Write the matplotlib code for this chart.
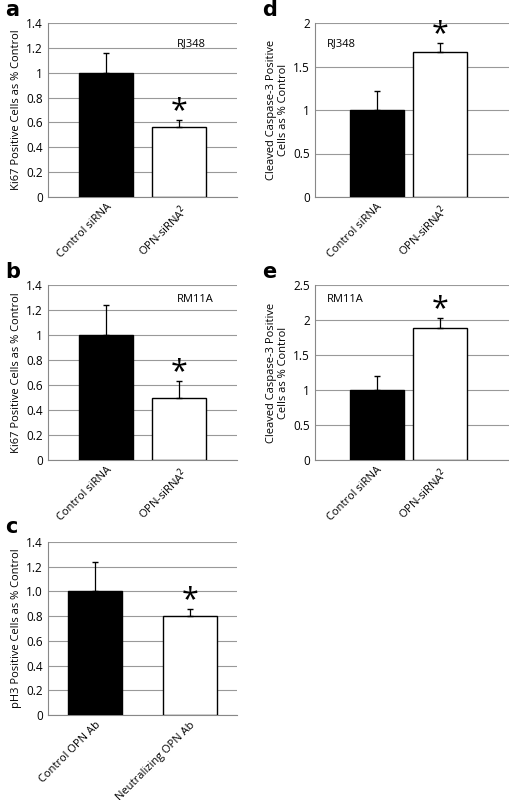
import matplotlib
matplotlib.use("Agg")
import matplotlib.pyplot as plt
import numpy as np

plt.rcParams['font.family'] = ['Open Sans', 'DejaVu Sans']

cats_si = ['Control siRNA', 'OPN-siRNA$^2$']
cats_ab = ['Control OPN Ab', 'Neutralizing OPN Ab']
a_vals = [1.0, 0.56]; a_err = [0.16, 0.06]
b_vals = [1.0, 0.50]; b_err = [0.24, 0.13]
c_vals = [1.0, 0.80]; c_err = [0.24, 0.06]
d_vals = [1.0, 1.67]; d_err = [0.22, 0.10]
e_vals = [1.0, 1.88]; e_err = [0.20, 0.15]

W, H = 510, 800
fig = plt.figure(figsize=(W/100, H/100), dpi=100)

def ax_px(x0, x1, ytop, ybot):
    return fig.add_axes([x0/W, 1-ybot/H, (x1-x0)/W, (ybot-ytop)/H])

def panel(ax, cats, vals, err, ymax, step, fmt, ylabel, tag, tagpos, star_dy, xlim, bw):
    x = [0, 1]
    ax.bar(x, vals, width=bw, color=['black', 'white'], edgecolor='black', linewidth=1.0, zorder=3)
    ax.errorbar(x, vals, yerr=[[0, 0], err], fmt='none', ecolor='black', elinewidth=0.9, capsize=2.5, zorder=4)
    ax.set_xlim(*xlim)
    ax.set_ylim(0, ymax)
    ticks = np.arange(0, ymax + 1e-9, step)
    ax.set_yticks(ticks)
    ax.set_yticklabels([fmt(t) for t in ticks], fontsize=8.5)
    ax.yaxis.grid(True, color='#999999', linewidth=0.8, zorder=0)
    ax.set_axisbelow(True)
    for s in ['top', 'right']:
        ax.spines[s].set_visible(False)
    ax.spines['left'].set_color('#888888')
    ax.spines['bottom'].set_color('#888888')
    ax.tick_params(axis='both', length=0, labelsize=8.5)
    ax.set_xticks(x)
    ax.set_xticklabels(cats, rotation=45, ha='right', rotation_mode='anchor', fontsize=8)
    ax.set_ylabel(ylabel, fontsize=8, labelpad=3)
    ax.text(1, vals[1] + err[1] + star_dy, '*', ha='center', va='center', fontsize=22)
    if tag:
        ax.text(tagpos[0], tagpos[1], tag, transform=ax.transAxes, ha='left', va='center', fontsize=8)
    return ax

f1 = lambda t: ('0' if t == 0 else f'{t:g}')
f2 = lambda t: ('0' if t == 0 else f'{t:.1f}')

xl_a = (-0.79, 1.79); xl_d = (-0.98, 2.1)
panel(ax_px(48, 237, 23, 197), cats_si, a_vals, a_err, 1.4, 0.2, f1, 'Ki67 Positive Cells as % Control', 'RJ348', (0.68, 0.88), 0.07, xl_a, 0.73)
panel(ax_px(48, 237, 285, 460), cats_si, b_vals, b_err, 1.4, 0.2, f1, 'Ki67 Positive Cells as % Control', 'RM11A', (0.68, 0.92), 0.07, xl_a, 0.73)
panel(ax_px(48, 237, 542, 715), cats_ab, c_vals, c_err, 1.4, 0.2, f2, 'pH3 Positive Cells as % Control', None, None, 0.07, (-0.5, 1.5), 0.57)
panel(ax_px(315, 509, 23, 197), cats_si, d_vals, d_err, 2.0, 0.5, f1, 'Cleaved Caspase-3 Positive\nCells as % Control', 'RJ348', (0.06, 0.88), 0.1, xl_d, 0.86)
panel(ax_px(315, 509, 285, 460), cats_si, e_vals, e_err, 2.5, 0.5, f1, 'Cleaved Caspase-3 Positive\nCells as % Control', 'RM11A', (0.06, 0.92), 0.13, xl_d, 0.86)

for letter, (x, y) in {'a': (5, 10), 'b': (5, 272), 'c': (5, 527), 'd': (262, 10), 'e': (262, 272)}.items():
    fig.text(x/W, 1-y/H, letter, fontsize=15, fontweight='bold', ha='left', va='center', family='DejaVu Sans')

fig.savefig('out.png', dpi=100)
